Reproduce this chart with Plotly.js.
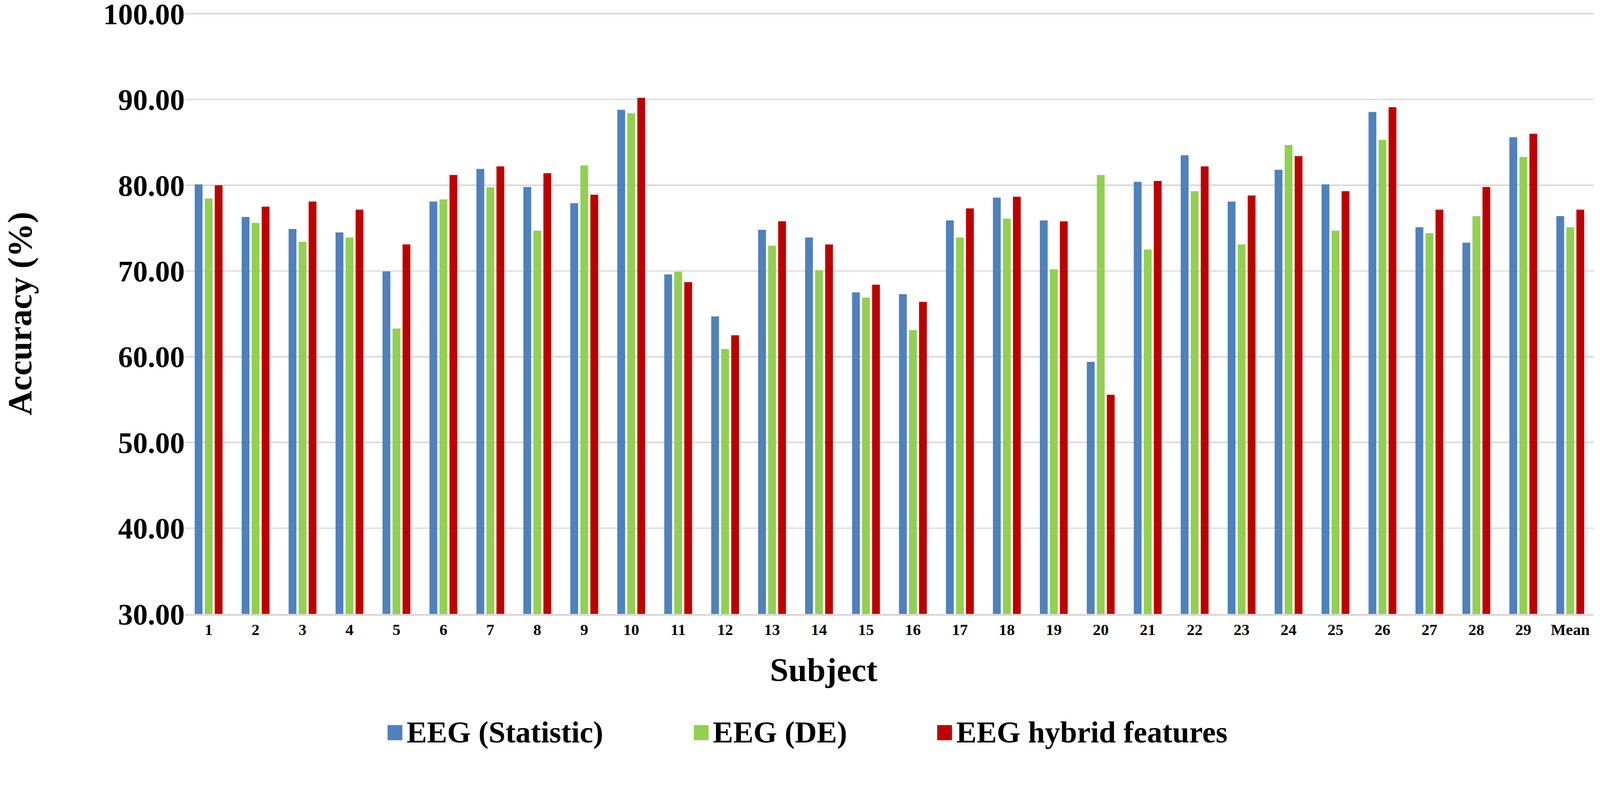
<!DOCTYPE html>
<html>
<head>
<meta charset="utf-8">
<script src="https://cdn.plot.ly/plotly-3.0.1.min.js"></script>
<style>
  html, body { margin: 0; padding: 0; background: #ffffff; overflow: hidden; }
  #chart { width: 100vw; height: 100vh; }
</style>
</head>
<body>
<div id="chart"></div>
<script>
(function () {
  "use strict";

  var subjects = ["1", "2", "3", "4", "5", "6", "7", "8", "9", "10",
    "11", "12", "13", "14", "15", "16", "17", "18", "19", "20",
    "21", "22", "23", "24", "25", "26", "27", "28", "29", "Mean"];

  var eegStatistic = [80.1, 76.3, 74.9, 74.5, 69.95, 78.1, 81.9, 79.8, 77.9, 88.8,
    69.6, 64.7, 74.8, 73.9, 67.5, 67.3, 75.9, 78.55, 75.9, 59.4,
    80.4, 83.5, 78.1, 81.8, 80.1, 88.55, 75.1, 73.3, 85.6, 76.4];

  var eegDE = [78.45, 75.6, 73.4, 73.9, 63.3, 78.35, 79.76, 74.7, 82.3, 88.4,
    69.9, 60.9, 72.95, 70.1, 66.9, 63.1, 73.9, 76.1, 70.2, 81.2,
    72.5, 79.3, 73.1, 84.7, 74.7, 85.3, 74.4, 76.4, 83.3, 75.1];

  var eegHybrid = [80.0, 77.5, 78.1, 77.15, 73.1, 81.2, 82.2, 81.4, 78.9, 90.2,
    68.7, 62.5, 75.8, 73.1, 68.4, 66.4, 77.3, 78.65, 75.8, 55.56,
    80.5, 82.2, 78.8, 83.4, 79.3, 89.1, 77.15, 79.8, 86.0, 77.15];

  var yTicks = [30, 40, 50, 60, 70, 80, 90, 100];

  var seriesNames = ["EEG (Statistic)", "EEG (DE)", "EEG hybrid features"];
  var seriesColors = ["#4f81bd", "#92d050", "#c00000"];
  var seriesValues = [eegStatistic, eegDE, eegHybrid];

  var serif = "'Liberation Serif', 'Times New Roman', serif";

  // the chart was laid out for 4317x2037; scale everything to the real viewport
  var el = document.getElementById("chart");
  var vw = el.clientWidth || window.innerWidth || 4317;
  var vh = el.clientHeight || window.innerHeight || 2037;
  var s = Math.min(vw / 4317, vh / 2037);
  function px(v) { return v * s; }

  var traces = seriesValues.map(function (vals, i) {
    return {
      type: "bar",
      name: seriesNames[i],
      x: subjects,
      y: vals,
      marker: { color: seriesColors[i] },
      hovertemplate: "%{x}: %{y:.2f}<extra>" + seriesNames[i] + "</extra>"
    };
  });

  // hand-made legend: plotly's bar swatches don't scale with the font
  var legendSquareX = [0.1437, 0.3611, 0.5339];
  var legendTextX = [0.1567, 0.3741, 0.5469];
  var shapes = [];
  var annotations = [];
  seriesNames.forEach(function (name, i) {
    shapes.push({
      type: "rect", xref: "paper", yref: "paper",
      x0: legendSquareX[i], x1: legendSquareX[i] + 0.0105,
      y0: -0.2102, y1: -0.1849,
      fillcolor: seriesColors[i], line: { width: 0 }
    });
    annotations.push({
      text: name, xref: "paper", yref: "paper",
      x: legendTextX[i], y: -0.1969, xanchor: "left", yanchor: "middle",
      showarrow: false,
      font: { family: serif, size: px(82), weight: 700, color: "#000000" }
    });
  });

  annotations.push({
    text: "Subject", xref: "paper", yref: "paper",
    x: 0.4534, y: -0.0932, xanchor: "center", yanchor: "middle",
    showarrow: false,
    font: { family: serif, size: px(90), weight: 700, color: "#000000" }
  });
  annotations.push({
    text: "Accuracy (%)", xref: "paper", yref: "paper",
    x: -0.1176, y: 0.5, xanchor: "center", yanchor: "middle",
    textangle: -90, showarrow: false,
    font: { family: serif, size: px(92), weight: 700, color: "#000000" }
  });

  Plotly.newPlot("chart", traces, {
    width: px(4317),
    height: px(2037),
    margin: { t: px(35), r: px(17), b: px(382), l: px(500), pad: 0 },
    paper_bgcolor: "#ffffff",
    plot_bgcolor: "#ffffff",
    showlegend: false,
    barmode: "group",
    bargap: 0.36,
    bargroupgap: 0.22,
    font: { family: serif, color: "#000000" },
    xaxis: {
      type: "category",
      showgrid: false,
      showline: true,
      linecolor: "#d9d9d9",
      linewidth: px(5),
      ticks: "",
      ticklabelstandoff: px(30),
      tickfont: { family: serif, size: px(43), weight: 700, color: "#000000" },
      fixedrange: true
    },
    yaxis: {
      range: [30, 100.1],
      tickvals: yTicks,
      tickformat: ".2f",
      showgrid: true,
      gridcolor: "#d9d9d9",
      gridwidth: px(4),
      zeroline: false,
      showline: false,
      ticks: "",
      ticklabelstandoff: px(90),
      ticklabeloverflow: "allow",
      tickfont: { family: serif, size: px(80), weight: 700, color: "#000000" },
      fixedrange: true
    },
    shapes: shapes,
    annotations: annotations
  }, { displayModeBar: false, responsive: false, staticPlot: true });
}());
</script>
</body>
</html>
